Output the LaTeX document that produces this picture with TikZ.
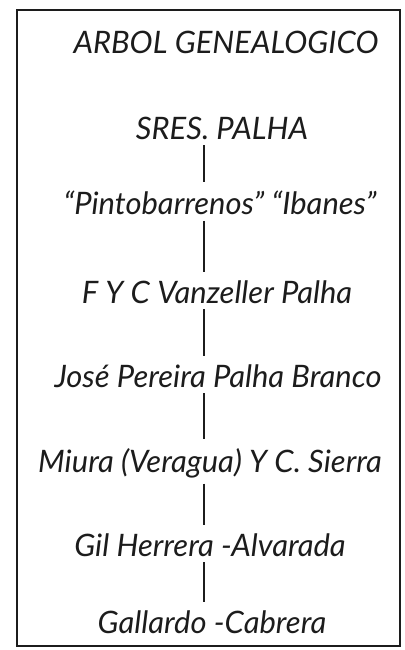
\documentclass[tikz,border=0pt]{standalone}
\usepackage{fontspec}
\setmainfont{Lato}
\definecolor{tintaN}{HTML}{1C1C1C}

\begin{document}
\begin{tikzpicture}[x=0.025cm,y=-0.025cm]
  \tikzset{nombre/.style={font=\itshape\fontsize{22}{26}\selectfont,text=tintaN,inner sep=1pt},
    rama/.style={tintaN,line width=1.4pt,shorten <=3pt,shorten >=5pt}}
  \useasboundingbox (0,0) rectangle (405,650);
  \draw[tintaN,line width=1.2pt] (17,10) rectangle (400,646);
  \coordinate (eje) at (204,0);
  \node[nombre] (titulo) at (226,42) {ARBOL GENEALOGICO};
  \node[nombre] (palha) at (222,128) {SRES. PALHA};
  \node[nombre] (pinto) at (220,203) {“Pintobarrenos” “Ibanes”};
  \node[nombre] (vanz) at (217,292) {F Y C Vanzeller Palha};
  \node[nombre] (jose) at (218,376) {José Pereira Palha Branco};
  \node[nombre] (miura) at (210,463) {Miura (Veragua) Y C. Sierra};
  \node[nombre] (gil) at (210,545) {Gil Herrera -Alvarada};
  \node[nombre] (gall) at (212,622) {Gallardo -Cabrera};
  % ramas del arbol
  \draw[rama] (palha.south -| eje) -- (pinto.north -| eje);
  \draw[rama] (pinto.south -| eje) -- (vanz.north -| eje);
  \draw[rama] (vanz.south -| eje) -- (jose.north -| eje);
  \draw[rama] (jose.south -| eje) -- (miura.north -| eje);
  \draw[rama] (miura.south -| eje) -- (gil.north -| eje);
  \draw[rama] (gil.south -| eje) -- (gall.north -| eje);
\end{tikzpicture}
\end{document}
